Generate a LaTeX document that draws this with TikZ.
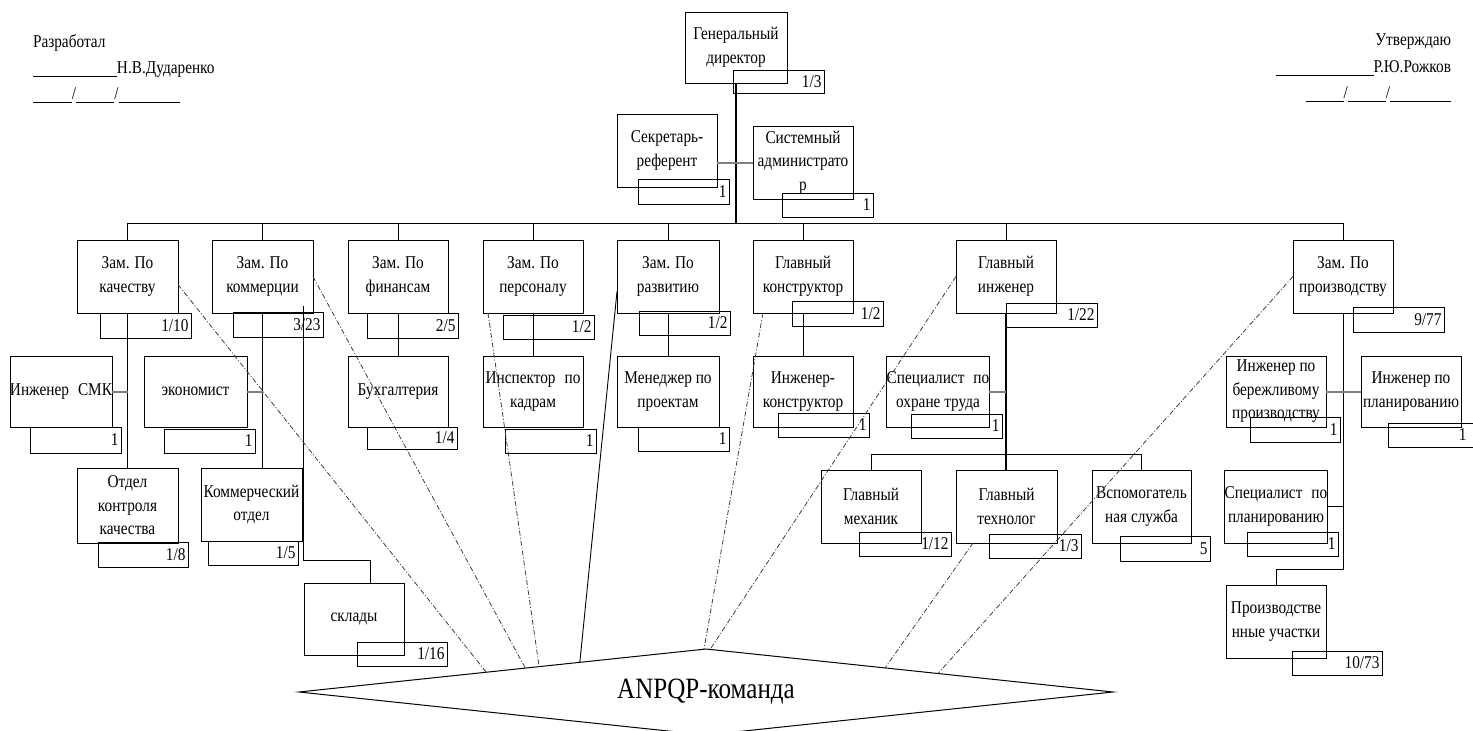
\documentclass[tikz,border=0pt]{standalone}
\usepackage{fontspec}
\setmainfont{Liberation Serif}[FakeStretch=0.85]
\usetikzlibrary{shapes.geometric,calc}
\tikzset{
  every node/.style={font=\fontsize{18}{23.5}\selectfont},
  box/.style={draw, line width=0.8pt, inner sep=0pt, outer sep=0pt, align=center},
  numbox/.style={draw, line width=0.8pt, inner xsep=2.5pt, inner ysep=0pt, outer sep=0pt, align=right},
  conn/.style={line width=0.9pt},
  thickconn/.style={line width=1.5pt},
  maincon/.style={line width=1.9pt},
  grayconn/.style={line width=2pt, color=black!50},
  dd/.style={line width=0.8pt, black!75, dash pattern=on 5pt off 2pt on 1pt off 2pt},
  hdr/.style={inner sep=0pt, outer sep=0pt},
}
\newcommand\BX[6]{%
  \pgfmathsetmacro\bxw{#4-#2}\pgfmathsetmacro\bxh{#5-#3}%
  \pgfmathsetmacro\bxx{(#2+#4)/2}\pgfmathsetmacro\bxy{(#3+#5)/2}%
  \node[box,minimum width=\bxw pt,minimum height=\bxh pt] (#1) at (\bxx,\bxy) {#6};}
\newcommand\NB[6]{%
  \pgfmathsetmacro\bxw{#4-#2}\pgfmathsetmacro\bxh{#5-#3}\pgfmathsetmacro\bxt{#4-#2-5}%
  \pgfmathsetmacro\bxx{(#2+#4)/2}\pgfmathsetmacro\bxy{(#3+#5)/2}%
  \node[numbox,minimum width=\bxw pt,minimum height=\bxh pt,text width=\bxt pt] (#1) at (\bxx,\bxy) {#6};}
\begin{document}
\begin{tikzpicture}[x=1pt,y=-1pt]
\useasboundingbox (0,0) rectangle (1473,731);
\clip (0,0) rectangle (1473,731);
\fill[white] (0,0) rectangle (1473,731);
% header
\node[hdr, anchor=base west] (dev1) at (33,47) {Разработал};
\node[hdr, anchor=base west] (dev2) at (33,73) {\rule[-3.5pt]{84pt}{0.7pt}Н.В.Дударенко};
\node[hdr, anchor=base west] (dev3) at (33,99) {\rule[-3.5pt]{39pt}{0.7pt}/\rule[-3.5pt]{38pt}{0.7pt}/\rule[-3.5pt]{61pt}{0.7pt}};
\node[hdr, anchor=base east] (app1) at (1451,45) {Утверждаю};
\node[hdr, anchor=base east] (app2) at (1451,72) {\rule[-3.5pt]{98pt}{0.7pt}Р.Ю.Рожков};
\node[hdr, anchor=base east] (app3) at (1451,98) {\rule[-3.5pt]{38pt}{0.7pt}/\rule[-3.5pt]{38pt}{0.7pt}/\rule[-3.5pt]{61pt}{0.7pt}};
% top
\BX{gd}{685}{12}{787}{83}{Генеральный\\директор}
\NB{gdn}{733}{70}{824}{93}{1/3}
\BX{sec}{617}{114}{717}{187}{Секретарь-\\референт}
\NB{secn}{638}{179}{729}{204}{1}
\BX{sa}{753}{126}{853}{199}{Системный\\администрато\\р}
\NB{san}{782}{193}{873}{217}{1}
% row 1
\BX{q}{77}{240}{178}{313}{Зам. По\\качеству}
\NB{qn}{100}{313}{191}{338}{1/10}
\BX{k}{212}{240}{313}{313}{Зам. По\\коммерции}
\NB{kn}{233}{312}{323}{337}{3/23}
\BX{f}{348}{240}{448}{313}{Зам. По\\финансам}
\NB{fn}{367}{313}{458}{338}{2/5}
\BX{p}{483}{240}{583}{313}{Зам. По\\персоналу}
\NB{pn}{503}{315}{594}{339}{1/2}
\BX{r}{617}{240}{719}{313}{Зам. По\\развитию}
\NB{rn}{639}{311}{730}{335}{1/2}
\BX{gk}{753}{240}{853}{313}{Главный\\конструктор}
\NB{gkn}{792}{301}{883}{326}{1/2}
\BX{gi}{956}{240}{1056}{313}{Главный\\инженер}
\NB{gin}{1006}{303}{1097}{327}{1/22}
\BX{pr}{1293}{240}{1393}{313}{Зам. По\\производству}
\NB{prn}{1353}{307}{1444}{332}{9/77}
% row 2
\BX{smk}{11}{356}{111}{427}{Инженер\hspace{0.5em}СМК}
\NB{smkn}{30}{427}{121}{453}{1}
\BX{eco}{144}{356}{247}{427}{экономист}
\NB{econ}{164}{429}{255}{453}{1}
\BX{buh}{348}{356}{448}{427}{Бухгалтерия}
\NB{buhn}{367}{427}{457}{449}{1/4}
\BX{ik}{483}{356}{583}{427}{Инспектор\enspace по\\кадрам}
\NB{ikn}{505}{429}{596}{453}{1}
\BX{mp}{617}{356}{719}{427}{Менеджер по\\проектам}
\NB{mpn}{638}{427}{729}{451}{1}
\BX{ikk}{753}{356}{853}{427}{Инженер-\\конструктор}
\NB{ikkn}{778}{413}{869}{437}{1}
\BX{sot}{888}{356}{988}{427}{Специалист\enspace по\\охране труда}
\NB{sotn}{911}{414}{1002}{438}{1}
\BX{ib}{1226}{356}{1326}{427}{Инженер по\\бережливому\\производству}
\NB{ibn}{1250}{417}{1340}{442}{1}
\BX{ip}{1361}{356}{1461}{427}{Инженер по\\планированию}
\NB{ipn}{1388}{423}{1479}{447}{1\rule{10pt}{0pt}}
% row 3
\BX{okk}{77}{468}{178}{543}{Отдел\\контроля\\качества}
\NB{okkn}{98}{542}{188}{567}{1/8}
\BX{ko}{201}{468}{302}{541}{Коммерческий\\отдел}
\NB{kon}{208}{541}{298}{565}{1/5}
\BX{skl}{304}{583}{404}{655}{склады}
\NB{skln}{357}{642}{447}{666}{1/16}
\BX{gm}{821}{470}{921}{543}{Главный\\механик}
\NB{gmn}{859}{532}{951}{556}{1/12}
\BX{gt}{956}{470}{1057}{543}{Главный\\технолог}
\NB{gtn}{989}{534}{1081}{558}{1/3}
\BX{vs}{1092}{470}{1191}{543}{Вспомогатель\\ная служба}
\NB{vsn}{1120}{536}{1210}{561}{5}
\BX{spp}{1226}{470}{1326}{543}{Специалист\enspace по\\планированию}
\NB{sppn}{1247}{532}{1338}{556}{1}
\BX{pu}{1226}{585}{1326}{658}{Производстве\\нные участки}
\NB{pun}{1292}{651}{1382}{675}{10/73}
% team diamond
\node[draw, diamond, aspect=9.5, inner sep=0pt, outer sep=0pt, minimum width=814pt, minimum height=86pt, line width=1pt, font=\fontsize{29.5}{31}\selectfont] (team) at (706,692) {ANPQP-команда};
% connectors
\coordinate (bus) at (0,223);
\draw[maincon] (gd.south) -- (gd.south |- bus);
\draw[conn] (q.north |- bus) -- (pr.north |- bus);
\foreach \n in {q,k,f,p,r,gk,gi,pr} \draw[conn] (\n.north) -- (\n.north |- bus);
\draw[grayconn] (sec.east |- sa.west) -- (sa.west);
\draw[thickconn] (q.south) -- (okk.north);
\draw[grayconn] (smk.east) -- (smk.east -| q.south);
\draw[thickconn] (k.south) -- (k.south |- ko.north);
\draw[grayconn] (eco.east) -- (eco.east -| k.south);
\coordinate (kst) at ($(k.south east)+(-10,-7)$);
\coordinate (kturn) at (370,560);
\draw[conn] (kst) |- (kturn) -- (kturn |- skl.north);
\draw[conn] (f.south) -- (buh.north);
\draw[conn] (p.south) -- (ik.north);
\draw[conn] (r.south) -- (mp.north);
\draw[conn] (gk.south) -- (ikk.north);
\coordinate (bus3) at (0,454);
\draw[thickconn] (gi.south) -- (gi.south |- gt.north);
\draw[grayconn] (sot.east) -- (sot.east -| gi.south);
\draw[conn] (gm.north) -- (gm.north |- bus3) -- (vs.north |- bus3) -- (vs.north);
\coordinate (pturn) at (1276,569);
\draw[conn] (pr.south) -- (pr.south |- pturn) -| (pu.north);
\draw[grayconn] (ib.east) -- (ip.west);
\draw[conn] (spp.east) -- (spp.east -| pr.south);
% links to team
\draw[dd] ([yshift=-8pt]q.east) -- ($(team.west)!0.46!(team.north)$);
\draw[dd] (k.east) -- ($(team.west)!0.556!(team.north)$);
\draw[dd] ([xshift=5pt]p.south west) -- ($(team.west)!0.59!(team.north)$);
\draw[conn] ([yshift=-15pt]r.west) -- ($(team.west)!0.69!(team.north)$);
\draw[dd] ([xshift=10pt]gk.south west) -- ($(team.west)!0.995!(team.north)$);
\draw[dd] (gi.west) -- ($(team.north)!0.01!(team.east)$);
\draw[dd] ([xshift=17pt]gt.south west) -- ($(team.north)!0.44!(team.east)$);
\draw[dd] (pr.west) -- ($(team.north)!0.57!(team.east)$);
\end{tikzpicture}
\end{document}
